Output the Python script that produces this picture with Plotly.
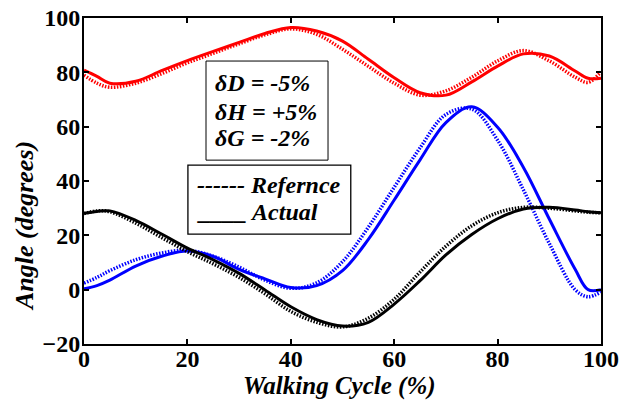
import plotly.graph_objects as go

cycle = [0, 2.5, 5, 10, 15, 20, 25, 30, 35, 40, 45, 50, 55, 60, 65, 70, 75, 80, 85, 90, 95, 97.5, 100]

red_actual = [80.8, 78.5, 76.0, 76.7, 80.6, 84.3, 87.7, 91.0, 94.3, 96.5, 95.2, 91.5, 84.8, 78.0, 72.5, 71.6, 76.5, 82.3, 86.8, 86.0, 80.5, 77.8, 77.8]
red_ref = [79.0, 76.0, 74.5, 76.0, 79.5, 83.5, 87.0, 90.5, 93.8, 96.0, 94.0, 88.5, 82.2, 76.0, 71.6, 73.2, 78.2, 84.2, 88.0, 84.2, 78.2, 76.3, 80.2]

blue_actual = [0.3, 1.5, 3.5, 8.7, 12.3, 14.2, 12.2, 7.5, 4.0, 0.8, 1.5, 7.0, 18.5, 33.0, 47.8, 61.5, 67.3, 59.8, 45.0, 26.0, 7.5, 0.0, 0.0]
blue_ref = [2.4, 4.5, 7.0, 11.0, 13.5, 14.5, 12.3, 8.3, 3.5, 0.5, 2.5, 10.3, 23.0, 37.7, 52.2, 64.5, 66.5, 55.0, 36.7, 17.0, 0.0, -2.6, -0.8]

black_actual = [28.1, 28.8, 29.0, 25.5, 20.5, 15.3, 11.0, 6.0, -0.1, -6.3, -11.0, -13.4, -12.0, -5.3, 3.3, 12.8, 20.3, 26.1, 29.7, 30.3, 29.3, 28.7, 28.3]
black_ref = [28.0, 29.0, 28.7, 24.5, 19.2, 14.0, 9.5, 4.5, -1.5, -8.0, -12.0, -13.7, -10.5, -3.5, 6.5, 16.0, 23.5, 28.3, 30.3, 30.0, 29.0, 28.5, 28.3]

x_ticks = [0, 20, 40, 60, 80, 100]
y_ticks = [-20, 0, 20, 40, 60, 80, 100]

param_lines = ["δD = -5%", "δH = +5%", "δG = -2%"]
legend_lines = ["------ Refernce", "____ Actual"]

FONT = "Liberation Serif, Times New Roman, serif"

fig = go.Figure()
series = [
    (red_ref, red_actual, "#ff0000"),
    (blue_ref, blue_actual, "#0000ff"),
    (black_ref, black_actual, "#000000"),
]
for ref, act, col in series:
    fig.add_trace(go.Scatter(x=cycle, y=ref, mode="lines",
                             line=dict(color=col, width=3.5, dash="1.5px,1.5px", shape="spline", smoothing=1.0),
                             showlegend=False, hoverinfo="skip"))
    fig.add_trace(go.Scatter(x=cycle, y=act, mode="lines",
                             line=dict(color=col, width=3, shape="spline", smoothing=1.0),
                             showlegend=False, hoverinfo="skip"))

axis_common = dict(showline=True, linecolor="black", linewidth=2, mirror="ticks",
                   ticks="inside", ticklen=5, tickwidth=1.5, tickcolor="black",
                   showgrid=False, zeroline=False, automargin=False,
                   ticklabeloverflow="allow",
                   tickfont=dict(family=FONT, size=24, color="black", weight="bold"))

fig.update_xaxes(range=[0, 100], tickvals=x_ticks, ticklabelstandoff=-8, **axis_common)
fig.update_yaxes(range=[-20, 100], tickvals=y_ticks, ticklabelstandoff=-3, **axis_common)

# boxes
fig.add_shape(type="rect", xref="paper", yref="paper", x0=0.236, x1=0.472, y0=0.564, y1=0.868,
              line=dict(color="black", width=1), fillcolor="white", layer="above")
fig.add_shape(type="rect", xref="paper", yref="paper", x0=0.201, x1=0.516, y0=0.337, y1=0.549,
              line=dict(color="black", width=1.3), fillcolor="white", layer="above")

annots = []
for txt, yy in zip(param_lines, [0.800, 0.7126, 0.631]):
    annots.append(dict(text=txt, x=0.2495, y=yy, xref="paper", yref="paper", xanchor="left", yanchor="middle",
                       showarrow=False, font=dict(family=FONT, size=24, color="black", weight="bold", style="italic")))
for txt, yy in zip(legend_lines, [0.4877, 0.4058]):
    annots.append(dict(text=txt, x=0.2147, y=yy, xref="paper", yref="paper", xanchor="left", yanchor="middle",
                       showarrow=False, font=dict(family=FONT, size=24, color="black", weight="bold", style="italic")))
annots.append(dict(text="Walking Cycle (%)", x=0.495, y=-0.1288, xref="paper", yref="paper",
                   xanchor="center", yanchor="middle", showarrow=False,
                   font=dict(family=FONT, size=25, color="black", weight="bold", style="italic")))
annots.append(dict(text="Angle (degrees)", x=-0.114, y=0.362, xref="paper", yref="paper",
                   xanchor="center", yanchor="middle", textangle=-90, showarrow=False,
                   font=dict(family=FONT, size=26, color="black", weight="bold", style="italic")))

fig.update_layout(width=620, height=401, margin=dict(l=84, r=19, t=18, b=57),
                  plot_bgcolor="white", paper_bgcolor="white", annotations=annots)

# remove the browser's default 8px body margin so the figure fills the window exactly
fig.write_html("out.html", config={"displayModeBar": False},
               post_script="document.body.style.margin='0px';")
